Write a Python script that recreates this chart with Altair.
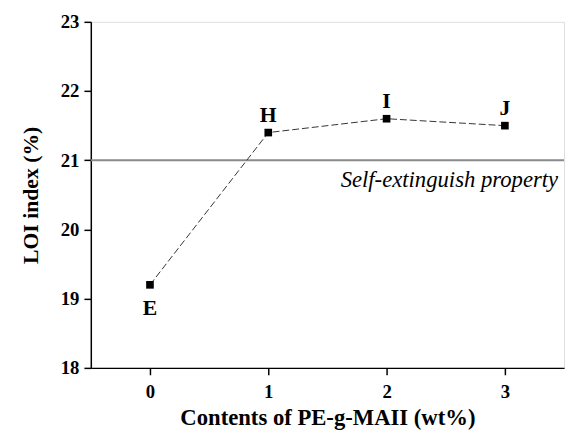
import altair as alt
import pandas as pd

contents = [0, 1, 2, 3]
loi = [19.2, 21.4, 21.6, 21.5]
labels = ["E", "H", "I", "J"]
label_pos = ["below", "above", "above", "above"]
threshold = [21.0]
note = ["Self-extinguish property"]

df = pd.DataFrame({"x": contents, "y": loi, "label": labels, "pos": label_pos})
thr = pd.DataFrame({"y": threshold})
note_df = pd.DataFrame({"x": [3.45], "y": [20.72], "t": note})

FONT = "Liberation Serif"

xscale = alt.Scale(domain=[-0.5, 3.5], nice=False, zero=False)
yscale = alt.Scale(domain=[18, 23], nice=False, zero=False)

xaxis = alt.Axis(values=[0, 1, 2, 3], format="d", title="Contents of PE-g-MAII (wt%)",
                 tickSize=7, labelPadding=8, titlePadding=5, grid=False,
                 domainColor="black", tickColor="black", domainWidth=1.5, tickWidth=1.5,
                 labelFont=FONT, labelFontSize=19, labelFontWeight="bold", labelColor="black",
                 titleFont=FONT, titleFontSize=23, titleFontWeight="bold", titleColor="black")
yaxis = alt.Axis(values=[18, 19, 20, 21, 22, 23], format="d", title="LOI index (%)",
                 tickSize=7, labelPadding=5, titlePadding=18, grid=False,
                 domainColor="black", tickColor="black", domainWidth=1.5, tickWidth=1.5,
                 labelFont=FONT, labelFontSize=19, labelFontWeight="bold", labelColor="black",
                 titleFont=FONT, titleFontSize=22, titleFontWeight="bold", titleColor="black")

rule = alt.Chart(thr).mark_rule(color="#8a8a8a", strokeWidth=2).encode(
    y=alt.Y("y:Q", scale=yscale, axis=yaxis)
)

line = alt.Chart(df).mark_line(color="#333333", strokeWidth=1, strokeDash=[7, 3]).encode(
    x=alt.X("x:Q", scale=xscale, axis=xaxis),
    y=alt.Y("y:Q", scale=yscale, axis=yaxis),
)

pts = alt.Chart(df).mark_point(shape="square", filled=True, size=60, color="black", opacity=1).encode(
    x=alt.X("x:Q", scale=xscale),
    y=alt.Y("y:Q", scale=yscale),
)

above = alt.Chart(df).transform_filter(alt.datum.pos == "above").mark_text(
    font=FONT, fontSize=22, fontWeight="bold", color="black", dy=-18, baseline="middle"
).encode(x=alt.X("x:Q", scale=xscale), y=alt.Y("y:Q", scale=yscale), text="label:N")

below = alt.Chart(df).transform_filter(alt.datum.pos == "below").mark_text(
    font=FONT, fontSize=22, fontWeight="bold", color="black", dy=24, baseline="middle"
).encode(x=alt.X("x:Q", scale=xscale), y=alt.Y("y:Q", scale=yscale), text="label:N")

txt = alt.Chart(note_df).mark_text(
    font=FONT, fontSize=23, fontStyle="italic", color="black", align="right", baseline="middle"
).encode(x=alt.X("x:Q", scale=xscale), y=alt.Y("y:Q", scale=yscale), text="t:N")

chart = alt.layer(rule, line, pts, above, below, txt).properties(
    width=480, height=351,
    autosize=alt.AutoSizeParams(type="none"),
    padding={"left": 84, "top": 11, "right": 3, "bottom": 62},
).configure_view(stroke="black", strokeWidth=1.5).configure(background="white")

chart.save("out.html", embed_options={"renderer": "svg", "actions": False})
